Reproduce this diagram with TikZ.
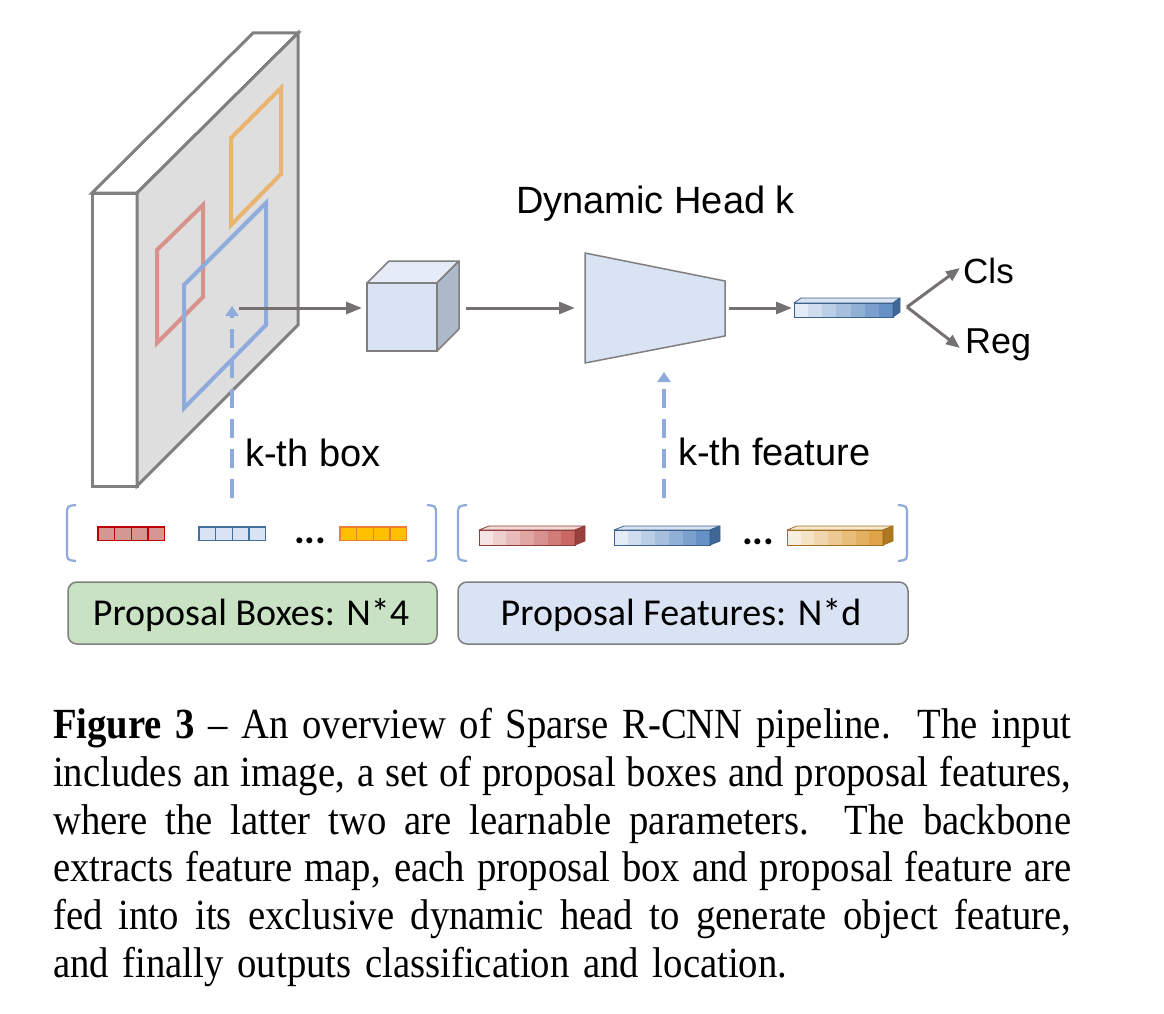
\documentclass[tikz,border=0pt]{standalone}
\usepackage{fontspec}
\setmainfont{Liberation Serif}
\newfontfamily\arialf{Liberation Sans}
\newfontfamily\calibrif{Carlito}
\newfontfamily\capfont[FakeStretch=0.9]{Liberation Serif}
\usetikzlibrary{arrows.meta}
\definecolor{slabgray}{HTML}{808080}
\definecolor{facegray}{HTML}{DEDEDE}
\definecolor{boxred}{HTML}{D7928C}
\definecolor{boxorange}{HTML}{E8B46E}
\definecolor{boxblue}{HTML}{8FAADC}
\definecolor{arrowgray}{HTML}{767171}
\definecolor{edgegray}{HTML}{7F7F7F}
\definecolor{lightblue}{HTML}{DAE3F3}
\definecolor{cubetop}{HTML}{E6ECF7}
\definecolor{cubeside}{HTML}{ADB9CA}
\definecolor{lightgreen}{HTML}{C9E2C3}
\definecolor{cellred}{HTML}{D59794}
\definecolor{cellredE}{HTML}{C00000}
\definecolor{cellblueE}{HTML}{41719C}
\definecolor{cellorange}{HTML}{FFC000}
\definecolor{cellorangeE}{HTML}{ED7D31}
\definecolor{barred}{HTML}{C0504D}
\definecolor{barblue}{HTML}{4F81BD}
\definecolor{barorange}{HTML}{D9962B}
\newcommand\featbar[7]{%
  \foreach \i in {0,...,6}{%
    \pgfmathsetmacro\pp{15+\i*12}%
    \fill[#7!\pp!white] ({#1+\i*#3/7},#2) rectangle ({#1+(\i+1)*#3/7},{#2+#4});
  }%
  \draw[#7!75!black,line width=0.8pt,fill=#7!22!white,line join=round] (#1,#2) -- ({#1+#5},{#2+#6}) -- ({#1+#3+#5},{#2+#6}) -- ({#1+#3},#2) -- cycle;
  \draw[#7!75!black,line width=0.8pt,fill=#7!80!black,line join=round] ({#1+#3},#2) -- ({#1+#3+#5},{#2+#6}) -- ({#1+#3+#5},{#2+#4+#6}) -- ({#1+#3},{#2+#4}) -- cycle;
  \draw[#7!75!black,line width=0.8pt] (#1,#2) rectangle ({#1+#3},{#2+#4});
}
\newcommand\cellrow[4]{% x y fill edge
  \foreach \i in {0,...,3}{%
    \draw[#4,fill=#3,line width=1.4pt] ({#1+\i*16.65},#2) rectangle ({#1+(\i+1)*16.65},{#2+13.3});
  }%
}
\newcommand\capline[2][1018pt]{\hbox to #1{\spaceskip=0.12em plus 1fil minus 0.04em\relax #2}}
\tikzset{
  garrow/.style={draw=arrowgray,line width=3pt,-{Triangle[length=16pt,width=12pt]}},
  barrow/.style={draw=arrowgray,line width=3pt,-{Triangle[length=14pt,width=11pt]}},
  darrow/.style={draw=boxblue,line width=4pt,dash pattern=on 19pt off 11pt,-{Triangle[length=10pt,width=13pt]}},
  regionbox/.style={draw=boxblue,line width=4pt,line join=miter},
  bracket/.style={draw=boxblue,line width=2.2pt},
  labeltext/.style={font=\arialf\fontsize{38}{44}\selectfont,inner sep=0},
  proptext/.style={font=\calibrif\fontsize{38}{44}\selectfont,inner sep=0},
  dotstext/.style={font=\calibrif\bfseries\fontsize{40}{44}\selectfont,inner sep=0},
  propbox/.style={draw=edgegray,line width=1.5pt,rounded corners=9pt},
}
\begin{document}
\begin{tikzpicture}[x=1pt,y=-1pt]
\useasboundingbox (0,0) rectangle (1164,1014);
% ---- feature map slab
\draw[slabgray,line width=3pt,fill=white,line join=miter] (92,193) rectangle (137,486);
\draw[slabgray,line width=3pt,fill=white,line join=miter] (92,193) -- (253,33) -- (298,33) -- (137,193) -- cycle;
\draw[slabgray,line width=3pt,fill=facegray,line join=miter] (137,193) -- (298,33) -- (298,325) -- (137,486) -- cycle;
\draw[regionbox,draw=boxred] (157,250) -- (203,205) -- (203,297) -- (157,343) -- cycle;
\draw[regionbox,draw=boxorange] (231,138) -- (281,88) -- (281,174) -- (231,225) -- cycle;
\draw[regionbox] (184,285) -- (266,203) -- (266,325) -- (184,408) -- cycle;
\coordinate (roi) at (239,308);
\coordinate (boxtip) at (232,306);
\coordinate (boxsrc) at (232,498);
% ---- RoI cube
\draw[edgegray,line width=1.5pt,fill=cubetop,line join=round] (367,283) -- (389,261) -- (459,261) -- (437,283) -- cycle;
\draw[edgegray,line width=1.5pt,fill=cubeside,line join=round] (437,283) -- (459,261) -- (459,329) -- (437,351) -- cycle;
\draw[edgegray,line width=1.5pt,fill=lightblue] (367,283) rectangle (437,351);
\coordinate (cubein) at (362,308);
\coordinate (cubeout) at (466,308);
% ---- dynamic head
\draw[edgegray,line width=1.5pt,fill=lightblue,line join=round] (585,253) -- (725,281) -- (725,336) -- (585,363) -- cycle;
\coordinate (headin) at (575,308);
\coordinate (headout) at (729,308);
\coordinate (headbot) at (664,372);
\coordinate (featsrc) at (664,498);
\node[labeltext,anchor=base west] (dhk) at (516,213) {Dynamic Head k};
% ---- output feature
\featbar{794}{303}{99}{14}{7}{-5}{barblue}
\coordinate (objin) at (792,308);
\coordinate (split) at (907,307);
\node[labeltext,font=\arialf\fontsize{35}{40}\selectfont,anchor=base west] (cls) at (963,283) {Cls};
\node[labeltext,font=\arialf\fontsize{36}{40}\selectfont,anchor=base west] (reg) at (965,353) {Reg};
\coordinate (clstip) at (960,268);
\coordinate (regtip) at (960,348);
% ---- connectors
\draw[garrow] (roi) -- (cubein);
\draw[garrow] (cubeout) -- (headin);
\draw[garrow] (headout) -- (objin);
\draw[barrow] (split) -- (clstip);
\draw[barrow] (split) -- (regtip);
\draw[darrow] (boxsrc) -- (boxtip);
\draw[darrow] (featsrc) -- (headbot);
\node[labeltext,anchor=base west] (kbox) at (245,466) {k-th box};
\node[labeltext,anchor=base west] (kfeat) at (678,465) {k-th feature};
% ---- brackets
\draw[bracket] (76,505) .. controls (67,506) .. (67,515) -- (67,551) .. controls (67,560) .. (76,561);
\draw[bracket] (427,505) .. controls (436,506) .. (436,515) -- (436,551) .. controls (436,560) .. (427,561);
\draw[bracket] (467,505) .. controls (458,506) .. (458,515) -- (458,551) .. controls (458,560) .. (467,561);
\draw[bracket] (898,505) .. controls (907,506) .. (907,515) -- (907,551) .. controls (907,560) .. (898,561);
% ---- proposal boxes
\cellrow{98}{527}{cellred}{cellredE}
\cellrow{199}{527}{lightblue}{cellblueE}
\node[dotstext,anchor=base west] (dots1) at (294,543) {...};
\cellrow{340}{527}{cellorange}{cellorangeE}
% ---- proposal features
\featbar{479}{530}{96}{15}{10}{-4}{barred}
\featbar{614}{530}{96}{15}{10}{-4}{barblue}
\node[dotstext,anchor=base west] (dots2) at (742,544) {...};
\featbar{787}{530}{96}{15}{10}{-4}{barorange}
% ---- labels
\draw[propbox,fill=lightgreen] (68,582) rectangle (437,644);
\node[proptext,anchor=base] (pb) at (251,625) {Proposal Boxes: N*4};
\draw[propbox,fill=lightblue] (458,582) rectangle (908,644);
\node[proptext,anchor=base] (pf) at (681,625) {Proposal Features: N*d};
% ---- caption
\node[anchor=north west,inner sep=0,text width=1018pt,align=left,
      font=\capfont\fontsize{43}{47.8}\selectfont] (cap) at (53,708) {%
\capline{\textbf{Figure 3} – An overview of Sparse R-CNN pipeline.\ \ The input}
\capline{includes an image, a set of proposal boxes and proposal features,}
\capline{where the latter two are learnable parameters.\ \ The backbone}
\capline{extracts feature map, each proposal box and proposal feature are}
\capline{fed into its exclusive dynamic head to generate object feature,}
\capline[734pt]{and finally outputs classification and location.}};
\end{tikzpicture}
\end{document}
